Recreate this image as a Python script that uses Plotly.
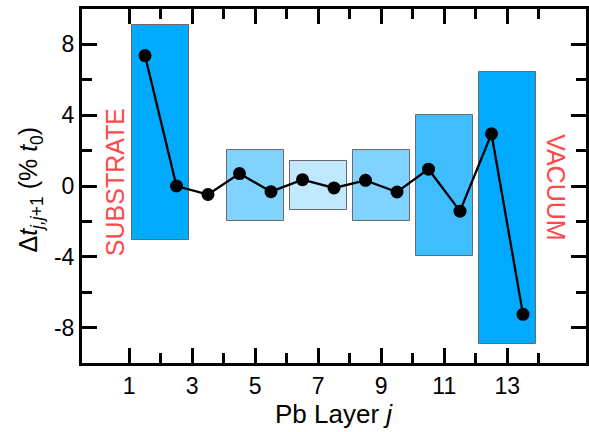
import plotly.graph_objects as go

# ---- data ----
layer_x = [1.5, 2.5, 3.5, 4.5, 5.5, 6.5, 7.5, 8.5, 9.5, 10.5, 11.5, 12.5, 13.5]
delta_t = [7.37, 0.0, -0.48, 0.70, -0.32, 0.36, -0.11, 0.32, -0.34, 0.95, -1.42, 2.95, -7.25]

box_center = [2, 5, 7, 9, 11, 13]
box_low = [-3.05, -1.97, -1.35, -1.97, -3.98, -8.92]
box_high = [9.07, 2.05, 1.44, 2.01, 4.02, 6.42]
box_color = ["#00aaff", "#80d2ff", "#c0e8ff", "#80d2ff", "#40bdff", "#00aaff"]

x_major = [1, 3, 5, 7, 9, 11, 13]
x_minor = [2, 4, 6, 8, 10, 12, 14]
y_major = [-8, -4, 0, 4, 8]
y_minor = [-6, -2, 2, 6]

x_title = "Pb Layer <i>j</i>"
y_title = "Δ<i>t</i><sub><i>j,j</i>+1</sub> (% <i>t</i><sub>0</sub>)"

FONT = "Liberation Sans, Arial, Helvetica, sans-serif"
RED = "#ff4848"

W, H = 589, 432
ML, MR, MT, MB = 82, 3, 9, 69
PW, PH = W - ML - MR, H - MT - MB

fig = go.Figure()

fig.add_trace(go.Bar(
    x=box_center,
    y=[h - l for h, l in zip(box_high, box_low)],
    base=box_low,
    width=1.8,
    marker=dict(color=box_color, line=dict(color="#6a6a6a", width=1)),
    showlegend=False,
    hoverinfo="skip",
))

fig.add_trace(go.Scatter(
    x=layer_x, y=delta_t, mode="lines+markers",
    line=dict(color="black", width=2.3),
    marker=dict(color="black", size=13),
    showlegend=False,
))

fig.add_annotation(x=0.57, y=0.2, xref="x", yref="y", text="SUBSTRATE",
                   textangle=-90, showarrow=False,
                   font=dict(family=FONT, size=25, color=RED))
fig.add_annotation(x=14.54, y=-0.05, xref="x", yref="y", text="VACUUM",
                   textangle=90, showarrow=False,
                   font=dict(family=FONT, size=25, color=RED))

# axis titles as annotations for exact placement
fig.add_annotation(x=0.5, y=(H - MB - 414) / PH, xref="paper", yref="paper",
                   text=x_title, showarrow=False, xanchor="center", yanchor="middle",
                   font=dict(family=FONT, size=26, color="black"))
fig.add_annotation(x=(30 - ML) / PW, y=0.49, xref="paper", yref="paper",
                   text=y_title, showarrow=False, textangle=-90,
                   xanchor="center", yanchor="middle",
                   font=dict(family=FONT, size=25, color="black"))

axis_common = dict(
    showline=True, linecolor="black", linewidth=3, mirror="allticks",
    ticks="inside", ticklen=15, tickwidth=2.5, tickcolor="black",
    showgrid=False, zeroline=False, automargin=False,
    tickfont=dict(family=FONT, size=23, color="black"),
)

fig.update_xaxes(
    range=[-0.5, 15.5], tickmode="array", tickvals=x_major,
    ticktext=[str(v) for v in x_major],
    minor=dict(tickmode="array", tickvals=x_minor, ticks="inside",
               ticklen=10, tickwidth=2.5, tickcolor="black", showgrid=False),
    **axis_common,
)
fig.update_yaxes(
    range=[-10, 10], tickmode="array", tickvals=y_major,
    ticktext=[str(v) for v in y_major],
    minor=dict(tickmode="array", tickvals=y_minor, ticks="inside",
               ticklen=10, tickwidth=2.5, tickcolor="black", showgrid=False),
    **axis_common,
)

fig.update_layout(
    width=W, height=H,
    margin=dict(l=ML, r=MR, t=MT, b=MB),
    plot_bgcolor="white", paper_bgcolor="white",
    font=dict(family=FONT, color="black"),
    bargap=0,
)

fig.write_html(
    "out.html",
    config={"displayModeBar": False},
    post_script="document.body.style.margin='0';document.body.style.padding='0';",
)
